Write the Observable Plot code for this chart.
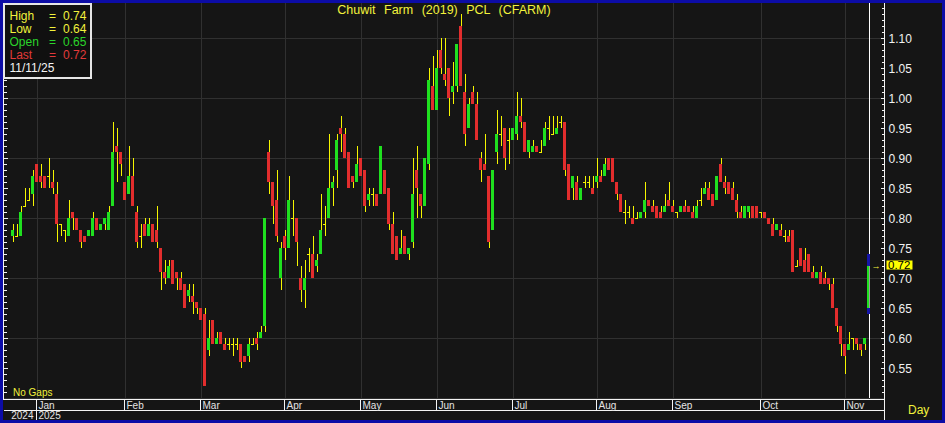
<!DOCTYPE html>
<html><head><meta charset="utf-8">
<script src="https://cdn.jsdelivr.net/npm/d3@7"></script>
<script src="https://cdn.jsdelivr.net/npm/@observablehq/plot@0.6"></script>
<style>
html,body{margin:0;padding:0;background:#151515;overflow:hidden;}
#chart svg{display:block;}
</style></head><body><div id="chart"></div>
<script>
// ---- data (one candle per trading day, Dec 23 2024 .. Nov 11 2025) ----
const openP = [
.77,.77,.77,.82,.83,.84,.89,.87,.87,.87,.86,.84,.79,.78,.77,.81,.80,.78,.77,.77,
.77,.80,.78,.79,.78,.82,.92,.91,.86,.84,.87,.81,.77,.79,.77,.79,.78,.75,.71,.70,
.73,.71,.70,.69,.67,.67,.66,.65,.64,.58,.63,.59,.61,.59,.59,.59,.59,.59,.57,.57,
.59,.60,.60,.62,.91,.86,.83,.70,.77,.75,.80,.80,.70,.68,.74,.74,.72,.74,.79,.80,
.85,.88,.95,.94,.91,.87,.86,.90,.88,.83,.84,.84,.84,.88,.85,.79,.77,.74,.77,.74,
.76,.88,.84,.82,.89,1.02,.98,1.08,1.04,1.05,1.01,1.02,1.12,1.01,.95,1.01,.99,.90,.89,.87,
.78,.91,.94,.95,.93,.93,.94,.97,.96,.91,.91,.92,.91,.92,.95,.94,.94,.96,.96,.89,
.85,.86,.83,.86,.86,.85,.86,.87,.87,.90,.90,.86,.84,.81,.81,.80,.80,.80,.81,.83,
.82,.82,.81,.81,.83,.82,.81,.81,.82,.82,.81,.80,.83,.84,.85,.84,.83,.89,.86,.86,
.85,.83,.81,.80,.81,.82,.82,.81,.81,.80,.79,.78,.78,.77,.77,.78,.72,.75,.73,.74,
.71,.70,.71,.70,.70,.69,.65,.62,.59,.58,.60,.60,.59,.59,.65];
const highP = [
.79,.79,.82,.85,.85,.88,.89,.89,.87,.90,.88,.86,.79,.78,.83,.81,.80,.78,.77,.78,
.81,.80,.79,.80,.82,.96,.95,.91,.86,.92,.90,.82,.79,.80,.80,.79,.82,.75,.73,.73,
.73,.71,.71,.69,.69,.69,.66,.65,.65,.63,.63,.61,.61,.60,.60,.60,.60,.59,.57,.60,
.60,.61,.62,.80,.93,.86,.88,.76,.78,.87,.83,.80,.72,.73,.75,.77,.74,.84,.82,.94,
.87,.94,.97,.95,.91,.87,.92,.90,.88,.85,.85,.84,.92,.88,.85,.81,.77,.78,.77,.75,
.90,.92,.84,.90,1.05,1.07,1.08,1.10,1.10,1.05,1.06,1.09,1.14,1.04,1.00,1.02,1.01,.91,.94,.87,
.88,.98,.97,.95,.95,.95,1.01,1.00,.96,.93,.93,.92,.93,.96,.97,.97,.97,.97,.96,.89,
.87,.87,.85,.87,.87,.87,.90,.88,.90,.90,.90,.86,.84,.83,.82,.82,.81,.81,.86,.83,
.83,.82,.82,.84,.86,.83,.81,.82,.83,.82,.82,.83,.85,.86,.86,.84,.87,.90,.87,.86,
.86,.84,.82,.82,.82,.82,.82,.81,.81,.80,.80,.79,.79,.78,.78,.78,.73,.75,.75,.74,
.72,.71,.72,.71,.70,.70,.65,.62,.59,.61,.60,.60,.59,.60,.74];
const lowP = [
.76,.77,.77,.82,.83,.82,.86,.85,.85,.85,.84,.76,.77,.76,.77,.78,.78,.75,.76,.77,
.77,.78,.78,.78,.78,.82,.86,.87,.83,.84,.82,.75,.75,.77,.77,.76,.75,.68,.69,.70,
.69,.68,.68,.65,.66,.64,.64,.63,.52,.57,.59,.59,.59,.58,.58,.57,.58,.55,.56,.56,
.59,.58,.60,.61,.84,.79,.76,.68,.73,.75,.77,.72,.66,.65,.71,.70,.71,.74,.77,.80,
.82,.85,.91,.90,.85,.85,.86,.87,.81,.82,.82,.82,.84,.84,.78,.74,.73,.74,.74,.73,
.75,.80,.80,.82,.88,.98,.98,1.04,1.02,.97,.99,1.01,1.02,.92,.95,.99,.93,.86,.88,.75,
.78,.89,.92,.88,.89,.93,.93,.95,.91,.90,.91,.91,.91,.92,.93,.94,.94,.95,.87,.83,
.83,.83,.83,.85,.85,.84,.85,.86,.87,.88,.86,.83,.81,.79,.80,.79,.80,.80,.80,.82,
.81,.80,.80,.81,.82,.81,.80,.81,.81,.81,.80,.80,.82,.84,.83,.82,.83,.86,.84,.84,
.83,.80,.80,.80,.80,.80,.80,.80,.80,.79,.77,.78,.77,.76,.76,.71,.72,.72,.71,.71,
.70,.70,.69,.69,.68,.65,.61,.57,.54,.58,.58,.58,.57,.58,.64];
const closeP = [
.78,.77,.81,.82,.83,.87,.86,.86,.85,.87,.85,.79,.79,.78,.80,.80,.78,.76,.76,.78,
.80,.78,.79,.80,.81,.91,.91,.89,.83,.87,.82,.76,.77,.77,.79,.76,.76,.71,.70,.72,
.69,.70,.68,.65,.68,.66,.65,.63,.52,.60,.59,.60,.59,.58,.59,.59,.59,.56,.56,.59,
.59,.59,.61,.80,.86,.82,.77,.75,.75,.83,.80,.76,.68,.70,.74,.70,.73,.78,.79,.85,
.86,.93,.94,.90,.85,.86,.89,.87,.82,.84,.84,.82,.92,.84,.79,.74,.73,.75,.74,.75,
.84,.85,.82,.90,1.03,.98,1.05,1.05,1.03,1.00,1.02,1.09,1.02,.94,.99,.99,.93,.88,.88,.76,
.88,.94,.94,.90,.93,.95,.97,.96,.91,.93,.92,.91,.91,.95,.95,.94,.95,.96,.88,.83,
.87,.83,.85,.86,.86,.84,.87,.86,.89,.88,.86,.84,.81,.81,.81,.79,.80,.81,.83,.82,
.81,.80,.80,.82,.82,.81,.81,.82,.81,.81,.80,.82,.83,.85,.83,.82,.87,.86,.85,.84,
.83,.81,.80,.82,.82,.80,.80,.81,.80,.79,.77,.79,.77,.77,.76,.71,.72,.72,.71,.71,
.70,.71,.69,.69,.69,.65,.62,.59,.57,.59,.60,.59,.58,.60,.72];
const monthLabels = ["Jan","Feb","Mar","Apr","May","Jun","Jul","Aug","Sep","Oct","Nov"];
const monthStarts = [6,28,47,68,87,106,125,146,165,187,208];
const yearLabels = ["2024","2025"];
const yearStart = 6;
const yTicks = [0.55,0.60,0.65,0.70,0.75,0.80,0.85,0.90,0.95,1.00,1.05,1.10];
const gridY = [0.50,0.60,0.70,0.80,0.90,1.00,1.10];
const minorTicks = d3.range(51, 117).map(d => d / 100);
const title = "Chuwit Farm (2019) PCL (CFARM)";
const lastDate = "11/11/25";

// ---- build ----
const data = openP.map((o, i) => ({i, o, h: highP[i], l: lowP[i], c: closeP[i]}));
const last = data[data.length - 1];
const ups = data.filter(d => d.c > d.o && d !== last);
const downs = data.filter(d => d.c < d.o);
const dojis = data.filter(d => d.c === d.o);

const GREEN = "#1fe01f", RED = "#e22d2d", WICK = "#f5f500", YEL = "#f2f23c";
const GRID = "#303030", AXIS = "#f4f4f4";
const axisK = 218, leftK = -2.25;
const crisp = {shapeRendering: "crispEdges"};

const chart = Plot.plot({
  width: 945, height: 423,
  marginLeft: 0.5, marginRight: 60.5, marginTop: 1.5, marginBottom: 25.5,
  x: {type: "linear", domain: [-3, 218], axis: null},
  y: {type: "linear", domain: [0.5, 1.16], axis: null},
  style: {background: "#151515", color: "#fff", fontFamily: "Liberation Sans, Arial, sans-serif", fontSize: "12px"},
  marks: [
    Plot.ruleY(gridY, {y: d => d, x1: leftK, x2: axisK, stroke: GRID, ...crisp}),
    Plot.ruleX(monthStarts, {x: d => d, stroke: GRID, ...crisp}),
    Plot.ruleX([last.i], {x: d => d, stroke: "#ffffff", ...crisp}),
    // ticks right axis
    Plot.ruleY(minorTicks, {y: d => d, x1: axisK - 0.75, x2: axisK, stroke: AXIS, ...crisp}),
    Plot.ruleY(yTicks, {y: d => d, x1: axisK - 1, x2: axisK, stroke: AXIS, ...crisp}),
    // ticks left axis
    Plot.ruleY(minorTicks, {y: d => d, x1: leftK, x2: leftK + 0.75, stroke: AXIS, ...crisp}),
    Plot.ruleY(yTicks, {y: d => d, x1: leftK, x2: leftK + 1, stroke: AXIS, ...crisp}),
    // candles
    Plot.ruleX(data.filter(d => d !== last), {x: "i", y1: "l", y2: "h", stroke: WICK, ...crisp}),
    Plot.rect([last], {x1: d => d.i - 0.375, x2: d => d.i + 0.375, y1: "l", y2: "h", fill: "#1515a8", ...crisp}),
    Plot.rect([last], {x1: d => d.i - 0.375, x2: d => d.i + 0.375, y1: "o", y2: "c", fill: GREEN, ...crisp}),
    Plot.ruleX([last], {x: "i", y1: "o", y2: "c", stroke: "#9c9c9c", ...crisp}),
    Plot.rect(ups, {x1: d => d.i - 0.375, x2: d => d.i + 0.375, y1: "o", y2: "c", fill: GREEN, ...crisp}),
    Plot.rect(downs, {x1: d => d.i - 0.375, x2: d => d.i + 0.375, y1: "o", y2: "c", fill: RED, ...crisp}),
    Plot.ruleY(dojis, {y: "c", x1: d => d.i - 0.375, x2: d => d.i + 0.375, stroke: WICK, ...crisp}),
    // y labels
    Plot.text(yTicks, {x: axisK, y: d => d, text: d => d.toFixed(2), dx: 3.5, dy: 1, textAnchor: "start", fill: "#f2f2f2", fontSize: 12})
  ]
});
document.getElementById("chart").appendChild(chart);

// ---- chrome ----
const xs = chart.scale("x"), ys = chart.scale("y");
const svg = d3.select(chart);
const FF = "Liberation Sans, Arial, sans-serif";
const g = svg.append("g").attr("shape-rendering", "crispEdges");
const xAxisPx = xs.apply(axisK), xLeftPx = xs.apply(leftK);
const line = (x1, y1, x2, y2, c) => g.append("line").attr("x1", x1).attr("y1", y1).attr("x2", x2).attr("y2", y2).attr("stroke", c || AXIS);
const txt = (x, y, s, fill, size, anchor) => svg.append("text").attr("x", x).attr("y", y)
  .attr("text-anchor", anchor || "start").attr("fill", fill).attr("font-family", FF).attr("font-size", size).text(s);
line(xLeftPx, 3, xLeftPx, 399.5);
line(xAxisPx, 3, xAxisPx, 420);
line(xLeftPx, 399.5, xAxisPx, 399.5);
line(xLeftPx, 410.5, xAxisPx, 410.5);
monthStarts.forEach((k, j) => {
  const px = xs.apply(k);
  line(px, 399.5, px, 410.5);
  txt(px + 2, 409, monthLabels[j], "#e4e4e4", 10);
});
const ysPx = xs.apply(yearStart);
line(ysPx, 410.5, ysPx, 420);
txt(ysPx - 3, 419, yearLabels[0], "#e4e4e4", 10, "end");
txt(ysPx + 2, 419, yearLabels[1], "#e4e4e4", 10);

txt(13, 396, "No Gaps", YEL, 10);
txt(908, 414, "Day", YEL, 12);
txt((xLeftPx + xAxisPx) / 2, 14, title, YEL, 12.5, "middle").attr("word-spacing", 5);

// last price marker
const yLast = ys.apply(last.c);
txt(876, yLast + 3, "→", YEL, 9, "middle");
svg.append("rect").attr("x", 886.5).attr("y", yLast - 5).attr("width", 26).attr("height", 9).attr("fill", "#ffff00");
txt(888, yLast + 3.5, last.c.toFixed(2), "#000", 11.5);

// legend box
svg.append("rect").attr("x", 4).attr("y", 4).attr("width", 87).attr("height", 74)
  .attr("fill", "#101010").attr("stroke", "#e6e6e6").attr("stroke-width", 2);
const rows = [["High", last.h, YEL], ["Low", last.l, YEL], ["Open", last.o, "#2bd42b"], ["Last", last.c, "#e23a3a"]];
rows.forEach((r, j) => {
  const yy = 19.5 + j * 13;
  txt(9.5, yy, r[0], r[2], 12);
  txt(49, yy, "=", r[2], 12);
  txt(63, yy, r[1].toFixed(2), r[2], 12);
});
txt(9.5, 19.5 + 4 * 13, lastDate, "#f4f4f4", 12);

// outer blue border
svg.append("rect").attr("x", 1.5).attr("y", 1.5).attr("width", 942).attr("height", 420)
  .attr("fill", "none").attr("stroke", "#0c0ca6").attr("stroke-width", 3);
</script>
</body></html>
